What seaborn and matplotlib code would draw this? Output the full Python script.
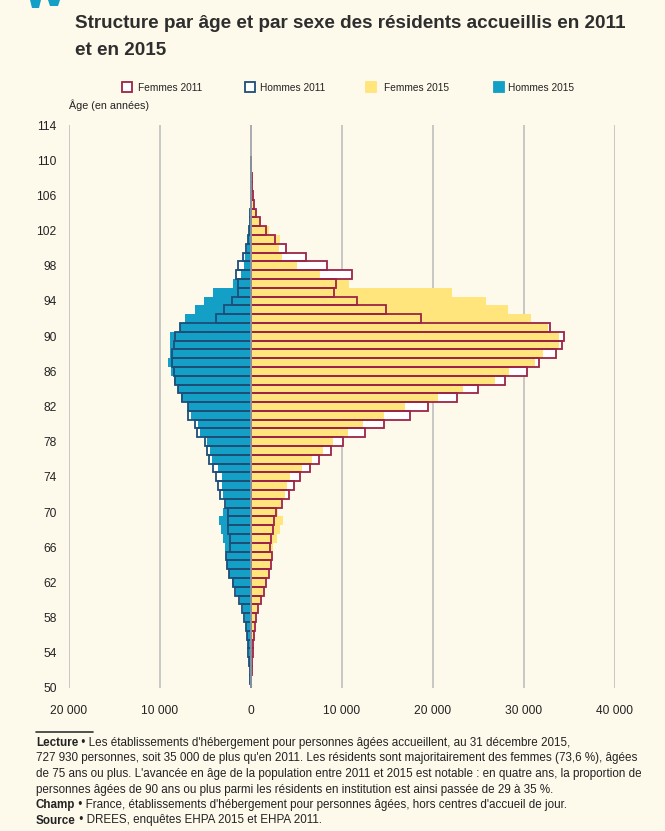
import matplotlib
matplotlib.use("Agg")
import matplotlib.pyplot as plt
from matplotlib.patches import Rectangle, Polygon
from matplotlib.lines import Line2D
import pandas as pd
import seaborn as sns

# ---- data (residents per single year of age) ----
ages = list(range(50, 111))
femmes_2011 = [20, 50, 100, 150, 200, 250, 330, 440, 550, 800,
               1100, 1430, 1650, 2000, 2200, 2350, 2100, 2200, 2400, 2500,
               2800, 3400, 4200, 4760, 5400, 6500, 7450, 8750, 10100, 12500,
               14600, 17500, 19500, 22650, 24950, 27950, 30300, 31700, 33500, 34200,
               34400, 32900, 18700, 14800, 11700, 9150, 9300, 11100, 8400, 6000,
               3850, 2600, 1700, 1000, 550, 350, 200, 120, 80, 50, 30]
femmes_2015 = [20, 40, 80, 130, 170, 220, 280, 330, 450, 620,
               1000, 1280, 1540, 1900, 2100, 2200, 2450, 2850, 3200, 3550,
               3000, 3300, 3700, 3950, 4280, 5560, 6700, 7900, 9050, 10700,
               12300, 14600, 16900, 20600, 23300, 26800, 28400, 31200, 32100, 33900,
               33900, 32600, 30800, 28200, 25800, 22100, 10800, 7600, 5000, 3400,
               3100, 3200, 2000, 1000, 500, 300, 180, 100, 60, 40, 20]
hommes_2011 = [50, 100, 150, 220, 300, 370, 480, 590, 770, 1020,
               1320, 1760, 2000, 2380, 2600, 2740, 2300, 2300, 2490, 2490,
               2490, 2850, 3400, 3660, 3840, 4200, 4600, 4870, 5100, 5960,
               6150, 6900, 6900, 7600, 7980, 8350, 8500, 8700, 8700, 8500,
               8400, 7800, 3840, 2960, 2100, 1390, 1450, 1700, 1390, 880,
               550, 370, 200, 120, 60, 30, 20, 10, 0, 0, 0]
hommes_2015 = [40, 80, 130, 200, 270, 350, 450, 550, 660, 840,
               1200, 1650, 2100, 2380, 2600, 2740, 2850, 3100, 3300, 3500,
               3100, 2750, 3100, 3200, 3200, 3600, 4300, 4500, 4800, 5600,
               5800, 6600, 6900, 7700, 8000, 8500, 8800, 9100, 8900, 8900,
               8900, 7800, 7200, 6200, 5200, 4200, 1940, 1100, 770, 620,
               480, 300, 200, 100, 50, 30, 20, 10, 0, 0, 0]

x_ticks = [-20000, -10000, 0, 10000, 20000, 30000, 40000]
x_tick_labels = ["20 000", "10 000", "0", "10 000", "20 000", "30 000", "40 000"]
y_ticks = list(range(50, 115, 4))
legend_labels = ["Femmes 2011", "Hommes 2011", "Femmes 2015", "Hommes 2015"]

# ---- style ----
BG = "#FDF9EB"
YELLOW = "#FFE57C"
BLUE = "#139FC6"
RED = "#9C2447"
NAVY = "#1E4E78"
GRID = "#C3C3C3"
TEXT = "#232323"

sns.set_style("white")
plt.rcParams["font.family"] = ["Liberation Sans Narrow", "DejaVu Sans Condensed",
                               "Liberation Sans", "DejaVu Sans"]
plt.rcParams["font.stretch"] = "condensed"
plt.rcParams["text.color"] = TEXT

W, H = 665, 831
fig = plt.figure(figsize=(W / 100, H / 100), dpi=100, facecolor=BG)
renderer = fig.canvas.get_renderer()


def fx(px):
    return px / W


def fy(py):
    return 1 - py / H


def fit_size(s, target_px, weight="normal"):
    """Font size giving the string a rendered width of target_px."""
    t = fig.text(0, 0, s, fontsize=10, fontweight=weight)
    w = t.get_window_extent(renderer=renderer).width
    t.remove()
    return 10 * target_px / w


# corner of the publication logo
for pts in ([(30, 0), (41, 0), (39, 8), (32, 8)], [(48, 0), (60, 0), (58, 6), (50, 6)]):
    fig.patches.append(Polygon([(fx(px), fy(py)) for px, py in pts], closed=True,
                               facecolor=BLUE, edgecolor="none",
                               transform=fig.transFigure, figure=fig))

ax = fig.add_axes([fx(69), fy(688), fx(615) - fx(69), fy(125) - fy(688)])
ax.set_facecolor(BG)


def pyramid_layer(values, sign, **kw):
    df = pd.DataFrame({"age": ages, "effectif": [sign * v for v in values]})
    sns.barplot(data=df, x="effectif", y="age", orient="y", native_scale=True,
                width=1.0, errorbar=None, saturation=1, ax=ax, **kw)


# 2011 under-layer (white where 2011 exceeds 2015)
pyramid_layer(femmes_2011, 1, color="white", linewidth=0)
pyramid_layer(hommes_2011, -1, color="white", linewidth=0)
# 2015 filled bars
pyramid_layer(femmes_2015, 1, color=YELLOW, linewidth=0)
pyramid_layer(hommes_2015, -1, color=BLUE, linewidth=0)
# 2011 outlines
pyramid_layer(femmes_2011, 1, fill=False, color=RED, linewidth=1.3)
pyramid_layer(hommes_2011, -1, fill=False, color=NAVY, linewidth=1.3)

tick_size = fit_size("20 000", 37)

ax.set_xlim(-20000, 40000)
ax.set_ylim(50, 114)
ax.set_xticks(x_ticks, x_tick_labels)
ax.set_yticks(y_ticks, [str(t) for t in y_ticks])
ax.set_xlabel("")
ax.set_ylabel("")
ax.grid(axis="x", color=GRID, linewidth=1.3)
ax.grid(axis="y", visible=False)
ax.set_axisbelow(True)
for s in ax.spines.values():
    s.set_visible(False)
ax.tick_params(axis="x", length=4, color=GRID, width=1.3, pad=8, labelsize=tick_size,
               labelcolor=TEXT)
ax.tick_params(axis="y", length=0, pad=9, labelsize=tick_size, labelcolor=TEXT)
ax.axvline(0, color="#A3A5AC", linewidth=1.1, zorder=5)

# ---- title ----
title_1 = "Structure par âge et par sexe des résidents accueillis en 2011"
title_2 = "et en 2015"
title_size = fit_size(title_1, 553, "bold")
fig.text(fx(75), fy(28), title_1, fontsize=title_size, fontweight="bold",
         color="#2E2E2E", va="baseline")
fig.text(fx(75), fy(55), title_2, fontsize=title_size, fontweight="bold",
         color="#2E2E2E", va="baseline")

# ---- legend ----
legend_size = fit_size("Femmes 2011", 64)
legend_items = [
    (122, 138, "white", RED),
    (245, 260, "white", NAVY),
    (366, 384, YELLOW, YELLOW),
    (494, 508, BLUE, BLUE),
]
for (bx, tx, fc, ec), lab in zip(legend_items, legend_labels):
    fig.patches.append(Rectangle((fx(bx), fy(92)), fx(10), 10 / H, facecolor=fc,
                                 edgecolor=ec, linewidth=1.3,
                                 transform=fig.transFigure, figure=fig))
    fig.text(fx(tx), fy(91), lab, fontsize=legend_size, va="baseline", ha="left")

fig.text(fx(69), fy(109), "Âge (en années)", fontsize=fit_size("Âge (en années)", 80),
         va="baseline", ha="left")

# ---- notes ----
fig.lines.append(Line2D([fx(36), fx(93)], [fy(732), fy(732)], color="#333333",
                        linewidth=1.2, transform=fig.transFigure, figure=fig))

notes = [
    ("Lecture", " • Les établissements d'hébergement pour personnes âgées accueillent, au 31 décembre 2015,"),
    ("", "727 930 personnes, soit 35 000 de plus qu'en 2011. Les résidents sont majoritairement des femmes (73,6 %), âgées"),
    ("", "de 75 ans ou plus. L'avancée en âge de la population entre 2011 et 2015 est notable : en quatre ans, la proportion de"),
    ("", "personnes âgées de 90 ans ou plus parmi les résidents en institution est ainsi passée de 29 à 35 %."),
    ("Champ", " • France, établissements d'hébergement pour personnes âgées, hors centres d'accueil de jour."),
    ("Source", " • DREES, enquêtes EHPA 2015 et EHPA 2011."),
]
note_size = fit_size(notes[1][1], 598)
line_y = [746, 761.5, 777, 792.5, 808, 823.5]
for (bold, rest), yy in zip(notes, line_y):
    x0 = fx(36)
    if bold:
        t = fig.text(x0, fy(yy), bold, fontsize=note_size, fontweight="bold",
                     va="baseline", ha="left")
        bb = t.get_window_extent(renderer=renderer)
        x0 = bb.x1 / fig.bbox.width
    fig.text(x0, fy(yy), rest, fontsize=note_size, va="baseline", ha="left")

fig.savefig("out.png", dpi=100, facecolor=BG)
